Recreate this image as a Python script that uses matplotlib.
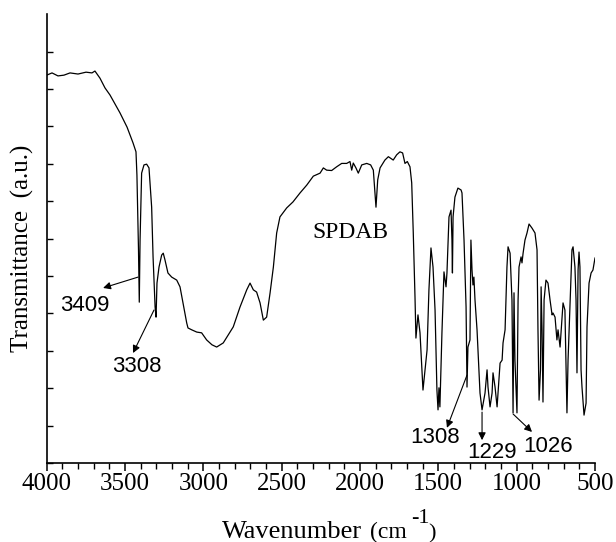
import matplotlib
matplotlib.use('Agg')
import matplotlib.pyplot as plt
import numpy as np

# IR spectrum of SPDAB
wavenumber = [4000, 3966, 3928, 3890, 3851, 3800, 3749, 3711, 3692, 3660,
              3628, 3596, 3532, 3487, 3449, 3430, 3424, 3414, 3409, 3404,
              3394, 3379, 3362, 3347, 3330, 3321, 3308, 3302, 3296, 3283,
              3266, 3256, 3245, 3226, 3202, 3170, 3149, 3130, 3106, 3098,
              3074, 3042, 3011, 2979, 2945, 2915, 2873, 2809, 2766, 2723,
              2702, 2681, 2660, 2638, 2617, 2596, 2574, 2553, 2532, 2511,
              2468, 2428, 2383, 2340, 2298, 2255, 2234, 2213, 2181, 2149,
              2117, 2085, 2064, 2053, 2043, 2026, 2011, 1989, 1957, 1932,
              1915, 1898, 1887, 1872, 1841, 1819, 1788, 1766, 1745, 1728,
              1713, 1698, 1681, 1670, 1660, 1649, 1643, 1630, 1617, 1598,
              1572, 1560, 1547, 1534, 1521, 1509, 1502, 1496, 1490, 1477,
              1464, 1451, 1445, 1432, 1419, 1413, 1410, 1406, 1394, 1375,
              1355, 1349, 1336, 1323, 1317, 1311, 1298, 1292, 1285, 1279,
              1273, 1266, 1253, 1234, 1221, 1202, 1189, 1183, 1170, 1157,
              1151, 1138, 1125, 1119, 1106, 1093, 1087, 1074, 1062, 1055,
              1042, 1030, 1023, 1017, 1011, 998, 991, 985, 972, 966,
              959, 947, 934, 921, 902, 883, 870, 864, 857, 848,
              844, 838, 832, 825, 813, 800, 787, 774, 768, 755,
              743, 736, 723, 711, 704, 692, 679, 672, 660, 647,
              640, 628, 621, 615, 608, 602, 596, 589, 583, 570,
              557, 551, 538, 525, 513, 500]
transmittance = [10.37, 10.43, 10.35, 10.37, 10.43, 10.40, 10.45, 10.43, 10.48, 10.29,
                 10.03, 9.84, 9.36, 8.98, 8.56, 8.32, 7.70, 5.70, 4.30, 5.96,
                 7.75, 7.97, 7.99, 7.89, 6.84, 5.51, 4.17, 3.90, 4.81, 5.24,
                 5.56, 5.61, 5.43, 5.08, 4.97, 4.89, 4.71, 4.28, 3.74, 3.61,
                 3.56, 3.50, 3.48, 3.29, 3.16, 3.10, 3.21, 3.64, 4.17, 4.63,
                 4.81, 4.63, 4.57, 4.28, 3.82, 3.90, 4.55, 5.24, 6.15, 6.58,
                 6.82, 6.98, 7.22, 7.43, 7.67, 7.75, 7.89, 7.83, 7.82, 7.92,
                 8.01, 8.01, 8.06, 7.83, 8.02, 7.89, 7.75, 7.97, 8.01, 7.97,
                 7.83, 6.84, 7.57, 7.89, 8.10, 8.19, 8.10, 8.24, 8.32, 8.29,
                 8.01, 8.06, 7.92, 7.49, 6.15, 4.44, 3.34, 3.96, 3.48, 1.95,
                 3.02, 4.63, 5.75, 5.24, 4.09, 1.95, 1.42, 2.01, 1.50, 3.48,
                 5.11, 4.71, 5.08, 6.58, 6.76, 5.96, 5.08, 6.58, 7.11, 7.35,
                 7.30, 7.22, 5.96, 4.17, 2.03, 3.10, 3.29, 5.96, 5.16, 4.76,
                 4.97, 4.36, 3.56, 1.87, 1.42, 1.87, 2.49, 2.03, 1.50, 1.87,
                 2.41, 2.03, 1.50, 1.87, 2.67, 2.75, 3.21, 3.56, 5.24, 5.78,
                 5.61, 4.36, 1.34, 4.55, 2.75, 1.34, 4.36, 5.24, 5.51, 5.35,
                 5.61, 5.96, 6.15, 6.39, 6.28, 6.15, 5.70, 3.56, 1.68, 2.49,
                 4.71, 3.56, 1.63, 4.36, 4.89, 4.81, 4.36, 3.96, 4.01, 3.90,
                 3.29, 3.56, 3.10, 3.82, 4.28, 4.09, 1.34, 2.75, 4.17, 5.70,
                 5.78, 5.24, 4.36, 2.41, 5.16, 5.64, 5.24, 2.49, 2.03, 1.28,
                 1.60, 3.64, 4.81, 5.08, 5.16, 5.48]

# peak labels: text, arrow tail (on curve), arrow head, text position
peak_labels = ['3409', '3308', '1308', '1229', '1026']
arrow_tail = [(3417, 4.97), (3315, 4.09), (1317, 2.35), (1221, 1.36), (1023, 1.31)]
arrow_head = [(3640, 4.68), (3449, 2.94), (1445, 0.94), (1221, 0.61), (902, 0.83)]
label_pos = [(3756, 4.20), (3424, 2.59), (1521, 0.67), (1157, 0.29), (800, 0.43)]

xticks = [4000, 3500, 3000, 2500, 2000, 1500, 1000, 500]

serif = 'Liberation Serif'
sans = 'Liberation Sans'

fig = plt.figure(figsize=(6.16, 5.42), dpi=100)
ax = fig.add_axes([0.0758, 0.1458, 0.8901, 0.828])

ax.plot(wavenumber, transmittance, color='black', lw=0.9)

ax.set_xlim(4000, 500)
ax.set_ylim(0, 12)
ax.spines['top'].set_visible(False)
ax.spines['right'].set_visible(False)
for s in ['left', 'bottom']:
    ax.spines[s].set_linewidth(1.2)

ax.set_xticks(xticks)
ax.set_xticks(np.arange(500, 4001, 100), minor=True)
ax.set_xticklabels([str(v) for v in xticks], fontfamily=serif, fontsize=18)
ax.tick_params(axis='x', which='major', direction='out', length=6, width=1.1, pad=1)
ax.tick_params(axis='x', which='minor', direction='out', length=4, width=1.0)
ax.set_yticks(np.arange(0, 12, 1))
ax.set_yticklabels([])
ax.tick_params(axis='y', which='major', direction='in', length=4, width=1.0)

for lab, t, h, p in zip(peak_labels, arrow_tail, arrow_head, label_pos):
    ax.annotate('', xy=h, xytext=t,
                arrowprops=dict(arrowstyle='-|>', color='black', lw=0.8,
                                mutation_scale=11, shrinkA=0, shrinkB=0))
    ax.text(p[0], p[1], lab, fontfamily=sans, fontsize=16,
            ha='center', va='center')

ax.text(2064, 6.15, 'SPDAB', fontfamily=serif, fontsize=17,
        ha='center', va='center')

# axis titles
fig.text(22 / 616, 1 - 248 / 542, 'Transmittance  (a.u.)', rotation=90,
         fontfamily=serif, fontsize=18, ha='center', va='center')
fig.text(222 / 616, 1 - 538 / 542, 'Wavenumber', fontfamily=serif,
         fontsize=19, ha='left', va='baseline')
fig.text(370 / 616, 1 - 538 / 542, '(cm', fontfamily=serif,
         fontsize=17, ha='left', va='baseline')
fig.text(411 / 616, 1 - 523 / 542, '-1', fontfamily=serif,
         fontsize=16, ha='left', va='baseline')
fig.text(428 / 616, 1 - 538 / 542, ')', fontfamily=serif,
         fontsize=16, ha='left', va='baseline')

fig.savefig('out.png', dpi=100)
